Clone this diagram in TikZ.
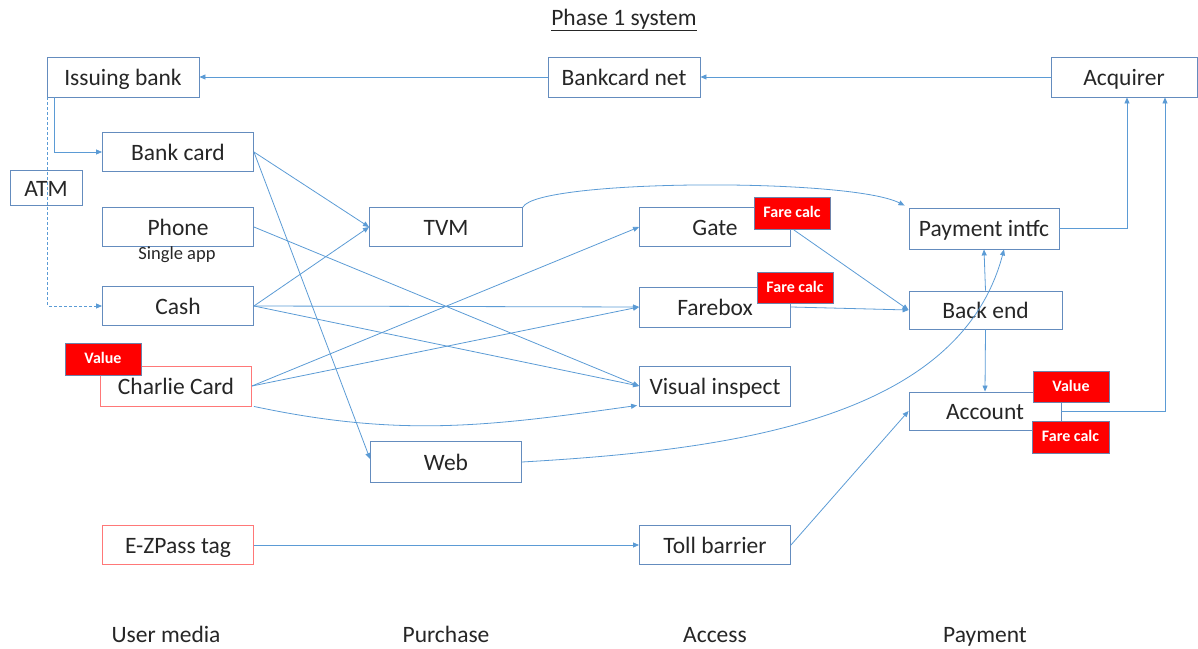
\documentclass[tikz,border=0pt]{standalone}
\usepackage{fontspec}
\setmainfont{Carlito}
\usetikzlibrary{arrows.meta}
\definecolor{ln}{RGB}{91,155,213}
\definecolor{bx}{RGB}{100,140,190}
\definecolor{rb}{RGB}{255,120,120}
\definecolor{tagb}{RGB}{110,130,170}
\definecolor{txt}{RGB}{38,38,38}
\begin{document}
\begin{tikzpicture}[x=1pt,y=1pt,
 box/.style={draw=bx, line width=0.9pt, minimum width=151pt, minimum height=39pt, inner sep=0pt, font=\fontsize{23.5}{25}\selectfont, text=txt, text height=18pt, text depth=1pt},
 rbox/.style={box, draw=rb},
 tag/.style={draw=tagb, fill=red, line width=0.8pt, minimum width=76pt, minimum height=32pt, inner sep=0pt, text=white, font=\fontsize{16}{18}\selectfont\bfseries, text height=10.5pt, text depth=1pt},
 lbl/.style={font=\fontsize{23.5}{25}\selectfont, text=txt, inner sep=0pt, text height=15pt, text depth=2pt},
 conn/.style={draw=ln, line width=0.8pt, -{Triangle[length=6pt,width=5pt]}},
]
\useasboundingbox (0,0) rectangle (1198,648);
% title and column labels
\node[lbl] (title) at (624,629) {\underline{Phase 1 system}};
\node[lbl] (colA) at (166,12) {User media};
\node[lbl] (colB) at (446,12) {Purchase};
\node[lbl] (colC) at (715,12) {Access};
\node[lbl] (colD) at (985,12) {Payment};
% boxes
\node[box, minimum width=152pt, minimum height=40pt] (issuing) at (123,571) {Issuing bank};
\node[box, minimum width=152pt, minimum height=40pt] (bcnet) at (624,571) {Bankcard net};
\node[box, minimum width=146pt, minimum height=40pt] (acquirer) at (1124,571) {Acquirer};
\node[box, minimum width=72pt, minimum height=35pt] (atm) at (46,460) {ATM};
\node[box] (bankcard) at (178,496) {Bank card};
\node[box] (phone) at (178,421) {Phone};
\node[lbl, font=\fontsize{18.5}{20}\selectfont, text height=12pt, text depth=2pt] (single) at (177,393) {Single app};
\node[box] (cash) at (178,342) {Cash};
\node[rbox, minimum height=40pt] (charlie) at (176,262) {Charlie Card};
\node[rbox] (ezpass) at (178,103) {E-ZPass tag};
\node[box, minimum width=153pt] (tvm) at (446,421) {TVM};
\node[box, minimum height=41pt] (web) at (446,186) {Web};
\node[box] (gate) at (715,421) {Gate};
\node[box, minimum height=40pt] (farebox) at (715,341) {Farebox};
\node[box, minimum height=40pt] (visual) at (715,262) {Visual inspect};
\node[box] (toll) at (715,103) {Toll barrier};
\node[box, minimum width=150pt, minimum height=41pt] (payint) at (984,419.5) {Payment intfc};
\node[box, minimum width=153pt, minimum height=38pt] (backend) at (985.5,338) {Back end};
\node[box, minimum width=152pt, minimum height=38pt] (account) at (985,237) {Account};
% connectors
\draw[conn] (acquirer.west) -- (bcnet.east);
\draw[conn] (bcnet.west) -- (issuing.east);
\draw[conn] ([xshift=8pt]issuing.south west) |- (bankcard.west);
\draw[conn, dash pattern=on 3pt off 2pt] ([xshift=1pt]issuing.south west) |- (cash.west);
\draw[conn] (bankcard.east) -- (tvm.west);
\draw[conn] (bankcard.east) -- ([yshift=3pt]web.west);
\draw[conn] (phone.east) -- (visual.west);
\draw[conn] (cash.east) -- (tvm.west);
\draw[conn] (cash.east) -- (farebox.west);
\draw[conn] (cash.east) -- (visual.west);
\draw[conn] (charlie.east) -- (gate.west);
\draw[conn] (charlie.east) -- (farebox.west);
\draw[conn] ([xshift=2pt]charlie.south east) to[out=-12,in=188] ([xshift=-2pt,yshift=1pt]visual.south west);
\draw[conn] (tvm.north east) .. controls +(15,28) and +(-55,28) .. ([xshift=-4pt,yshift=2pt]payint.north west);
\draw[conn] (web.east) .. controls +(210,12) and +(-45,-170) .. ([xshift=20pt]payint.south);
\draw[conn] ([xshift=3pt,yshift=-3pt]gate.east) -- (backend.west);
\draw[conn] (farebox.east) -- (backend.west);
\draw[conn] (backend.north) -- (payint.south);
\draw[conn] (backend.south) -- (account.north);
\draw[conn] (toll.east) -- (account.west);
\draw[conn] (ezpass.east) -- (toll.west);
\draw[conn] (payint.east) -| ([xshift=3pt]acquirer.south);
\draw[conn] (account.east) -| ([xshift=41pt]acquirer.south);
% tags
\node[tag] (cvalue) at (103,289) {Value};
\node[tag] (gfare) at (792,435) {Fare calc};
\node[tag, minimum height=31pt] (ffare) at (795,360.5) {Fare calc};
\node[tag, minimum height=31pt] (avalue) at (1071,261.5) {Value};
\node[tag, minimum width=77pt] (afare) at (1070.5,211) {Fare calc};
\end{tikzpicture}
\end{document}
